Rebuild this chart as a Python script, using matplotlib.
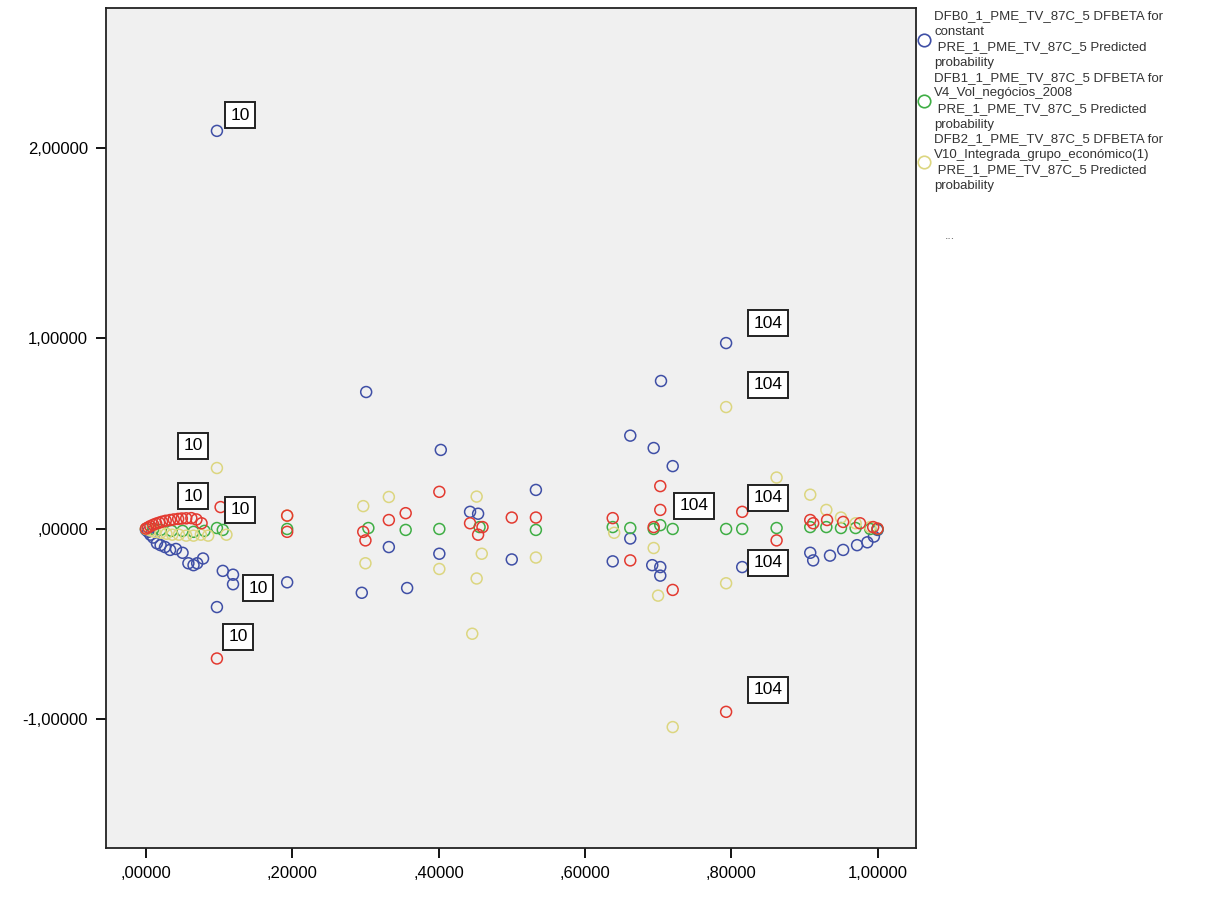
import matplotlib
matplotlib.use("Agg")
import matplotlib.pyplot as plt
from matplotlib.lines import Line2D

plt.rcParams['font.family'] = ['Liberation Sans', 'DejaVu Sans']

# DFB0 - DFBETA for constant (blue)
dfb0_x = [0.0, 0.003, 0.006, 0.01, 0.015, 0.02, 0.026, 0.033, 0.041, 0.05, 0.058, 0.065, 0.07, 0.078,
          0.097, 0.097, 0.105, 0.119, 0.119, 0.193, 0.295, 0.301, 0.332, 0.357, 0.403, 0.401,
          0.443, 0.454, 0.50, 0.533, 0.638, 0.662, 0.662, 0.692, 0.694, 0.703, 0.703, 0.704,
          0.72, 0.793, 0.815, 0.908, 0.912, 0.935, 0.953, 0.972, 0.986, 0.995, 1.0]
dfb0_y = [-0.005, -0.015, -0.03, -0.045, -0.075, -0.085, -0.095, -0.11, -0.105, -0.125, -0.18, -0.19, -0.18, -0.155,
          2.09, -0.41, -0.22, -0.24, -0.29, -0.28, -0.335, 0.719, -0.095, -0.31, 0.415, -0.13,
          0.09, 0.08, -0.16, 0.205, -0.17, 0.49, -0.05, -0.19, 0.425, -0.2, -0.245, 0.777,
          0.33, 0.976, -0.2, -0.125, -0.165, -0.14, -0.11, -0.085, -0.07, -0.04, -0.005]

# DFB1 - DFBETA for V4 (green)
dfb1_x = [0.0, 0.01, 0.02, 0.035, 0.05, 0.065, 0.08, 0.097, 0.105, 0.193, 0.304, 0.355, 0.401,
          0.456, 0.533, 0.638, 0.662, 0.694, 0.72, 0.703, 0.793, 0.815, 0.862, 0.908, 0.93,
          0.95, 0.97, 0.99, 1.0]
dfb1_y = [0.0, 0.0, -0.005, -0.01, -0.01, -0.015, -0.01, 0.005, -0.005, 0.0, 0.005, -0.005, 0.0,
          0.01, -0.005, 0.01, 0.005, 0.0, 0.0, 0.02, 0.0, 0.0, 0.005, 0.01, 0.01,
          0.005, 0.005, 0.0, 0.0]

# DFB2 - DFBETA for V10 (yellow)
dfb2_x = [0.0, 0.006, 0.012, 0.02, 0.028, 0.036, 0.045, 0.055, 0.065, 0.075, 0.085, 0.097, 0.11,
          0.193, 0.297, 0.30, 0.332, 0.401, 0.446, 0.452, 0.452, 0.459, 0.533, 0.64, 0.694, 0.70,
          0.72, 0.793, 0.793, 0.862, 0.908, 0.93, 0.95, 0.97, 0.99]
dfb2_y = [0.0, -0.008, -0.015, -0.02, -0.025, -0.03, -0.03, -0.035, -0.035, -0.03, -0.035, 0.32, -0.03,
          0.07, 0.12, -0.18, 0.168, -0.21, -0.55, 0.17, -0.26, -0.13, -0.15, -0.02, -0.1, -0.35,
          -1.04, 0.64, -0.285, 0.27, 0.18, 0.1, 0.06, 0.03, 0.01]

# DFB3 (red)
dfb3_x = [0.0, 0.003, 0.006, 0.01, 0.014, 0.018, 0.022, 0.027, 0.033, 0.038, 0.044, 0.049, 0.055,
          0.062, 0.069, 0.076, 0.102, 0.097, 0.193, 0.193, 0.297, 0.30, 0.332, 0.355, 0.401,
          0.443, 0.454, 0.46, 0.50, 0.533, 0.638, 0.662, 0.703, 0.703, 0.694, 0.72, 0.793,
          0.815, 0.862, 0.908, 0.912, 0.931, 0.953, 0.976, 0.994, 1.0]
dfb3_y = [0.002, 0.008, 0.015, 0.022, 0.028, 0.033, 0.038, 0.043, 0.047, 0.05, 0.053, 0.055, 0.056,
          0.057, 0.05, 0.03, 0.115, -0.68, 0.07, -0.015, -0.015, -0.06, 0.047, 0.083, 0.195,
          0.03, -0.03, 0.01, 0.06, 0.06, 0.057, -0.165, 0.225, 0.10, 0.01, -0.32, -0.96,
          0.09, -0.06, 0.047, 0.03, 0.047, 0.037, 0.03, 0.01, 0.002]

# case labels
lab_text = ['10', '10', '10', '10', '10', '10', '104', '104', '104', '104', '104', '104']
lab_x = [0.1285, 0.0643, 0.0643, 0.1285, 0.1531, 0.1258, 0.850, 0.850, 0.749, 0.850, 0.850, 0.850]
lab_y = [2.173, 0.436, 0.173, 0.0997, -0.310, -0.567, 1.081, 0.756, 0.121, 0.163, -0.178, -0.845]

legend_labels = [
    "DFB0_1_PME_TV_87C_5 DFBETA for\nconstant\n PRE_1_PME_TV_87C_5 Predicted\nprobability",
    "DFB1_1_PME_TV_87C_5 DFBETA for\nV4_Vol_negócios_2008\n PRE_1_PME_TV_87C_5 Predicted\nprobability",
    "DFB2_1_PME_TV_87C_5 DFBETA for\nV10_Integrada_grupo_económico(1)\n PRE_1_PME_TV_87C_5 Predicted\nprobability",
]

x_ticks = [0.0, 0.2, 0.4, 0.6, 0.8, 1.0]
x_ticklabels = [',00000', ',20000', ',40000', ',60000', ',80000', '1,00000']
y_ticks = [-1.0, 0.0, 1.0, 2.0]
y_ticklabels = ['-1,00000', ',00000', '1,00000', '2,00000']

blue = '#3f4fa6'
green = '#3fae45'
yellow = '#dcd680'
red = '#e33a30'

fig = plt.figure(figsize=(12.15, 9.01), dpi=100)
ax = fig.add_axes([0.0872, 0.0588, 0.6668, 0.9323])
ax.set_facecolor('#f0f0f0')

ms = 62
ax.scatter(dfb0_x, dfb0_y, s=ms, facecolors='none', edgecolors=blue, linewidths=1.1, zorder=3)
ax.scatter(dfb1_x, dfb1_y, s=ms, facecolors='none', edgecolors=green, linewidths=1.1, zorder=3)
ax.scatter(dfb2_x, dfb2_y, s=ms, facecolors='none', edgecolors=yellow, linewidths=1.1, zorder=3)
ax.scatter(dfb3_x, dfb3_y, s=ms, facecolors='none', edgecolors=red, linewidths=1.1, zorder=3)

for t, lx, ly in zip(lab_text, lab_x, lab_y):
    ax.text(lx, ly, t, ha='center', va='center', fontsize=12.5, zorder=5,
            bbox=dict(boxstyle='square,pad=0.3', facecolor='white', edgecolor='#222222', linewidth=1.4))

ax.set_xlim(-0.0547, 1.0527)
ax.set_ylim(-1.675, 2.735)
ax.set_xticks(x_ticks)
ax.set_xticklabels(x_ticklabels)
ax.set_yticks(y_ticks)
ax.set_yticklabels(y_ticklabels)
ax.tick_params(axis='both', labelsize=12, length=7, width=1.3, direction='out', pad=6)
for sp in ax.spines.values():
    sp.set_linewidth(1.3)
    sp.set_color('#222222')

handles = [Line2D([], [], linestyle='none', marker='o', markersize=9, markerfacecolor='none',
                  markeredgecolor=c, markeredgewidth=1.2) for c in [blue, green, yellow]]
leg = fig.legend(handles, legend_labels, loc='upper left', bbox_to_anchor=(0.752, 0.993),
                 frameon=False, fontsize=9.5, handlelength=0.9, handletextpad=0.35,
                 labelspacing=0.2, borderpad=0.3, borderaxespad=0)
for t in leg.get_texts():
    t.set_color('#333333')
    t.set_linespacing(1.4)
fig.text(0.778, 0.735, '...', fontsize=9, color='#666666')

fig.savefig('out.png', dpi=100)
